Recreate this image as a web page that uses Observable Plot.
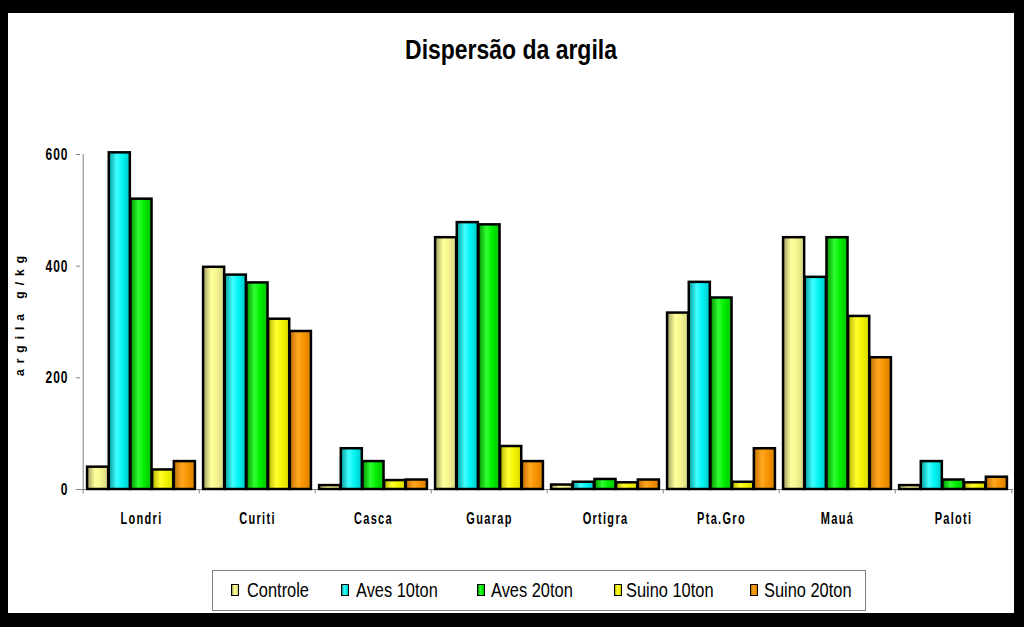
<!DOCTYPE html>
<html><head><meta charset="utf-8">
<script src="https://cdn.jsdelivr.net/npm/d3@7"></script>
<script src="https://cdn.jsdelivr.net/npm/@observablehq/plot@0.6"></script>
<style>
html,body{margin:0;padding:0;background:#000;width:1024px;height:627px;overflow:hidden}
#frame{position:absolute;left:8px;top:13px;width:1006px;height:600px;background:#fff}
#title{position:absolute;left:0;top:23px;width:1006px;text-align:center;font-weight:bold;font-size:28px;line-height:28px;color:#000;white-space:nowrap}
#ylabel{position:absolute;left:12px;top:300px;width:0;height:0}
#ylabel span{position:absolute;left:0;top:0;transform:translate(-50%,-50%) rotate(-90deg);white-space:nowrap;font:bold 12px "Liberation Sans",Arial,sans-serif;letter-spacing:6px;color:#000}
#chart{position:absolute;left:0;top:87px}
#legend{position:absolute;left:204px;top:557px;width:652px;height:39px;border:1px solid #808080;background:#fff}
.sw{position:absolute;top:13px;width:6px;height:10px;border:1.5px solid #000}
.lt{position:absolute;top:0;height:39px;line-height:39px;font-size:20px;color:#000;white-space:nowrap}
</style></head>
<body>
<div id="frame">
  <div id="title">Dispersão da argila</div>
  <div id="ylabel"><span>argila g/kg</span></div>
  <div id="chart"></div>
  <div id="legend"></div>
</div>
<script>
const categories = ["Londri","Curiti","Casca","Guarap","Ortigra","Pta.Gro","Mauá","Paloti"];
const seriesNames = ["Controle","Aves 10ton","Aves 20ton","Suino 10ton","Suino 20ton"];
const controle = [40, 398, 7, 451, 8, 316, 451, 7];
const aves10   = [603, 384, 73, 478, 13, 371, 380, 50];
const aves20   = [520, 370, 50, 474, 18, 343, 451, 17];
const suino10  = [35, 305, 16, 77, 12, 13, 310, 12];
const suino20  = [50, 283, 17, 50, 17, 73, 236, 22];
const yTicks = [0, 200, 400, 600];

const seriesValues = [controle, aves10, aves20, suino10, suino20];
const gradStops = [
  ["#a09c64", "#ffff99", "#f4f490", "#d8d680"],
  ["#009c9c", "#40ffff", "#00f4f4", "#00c8c8"],
  ["#009400", "#30ff30", "#00ee00", "#00c000"],
  ["#b4b400", "#ffff30", "#f4f400", "#d8d800"],
  ["#c06c00", "#ffa820", "#f89400", "#d88000"]
];
const stopOffsets = [0, 0.38, 0.65, 1];

function hasFont(name){
  const c = document.createElement("canvas").getContext("2d");
  const s = "Dispersão da argila Controle";
  c.font = 'bold 40px "' + name + '", monospace'; const a = c.measureText(s).width;
  c.font = 'bold 40px monospace'; const b = c.measureText(s).width;
  return Math.abs(a - b) > 0.5;
}
const narrowOK = hasFont("Liberation Sans Narrow");
const narrowFont = narrowOK ? '"Liberation Sans Narrow","Arial Narrow",sans-serif' : '"Liberation Sans",Arial,sans-serif';

const title = document.getElementById("title");
title.style.fontFamily = narrowFont;
if (!narrowOK) { title.style.transform = "scaleX(0.82)"; title.style.transformOrigin = "503px 0"; }

const data = categories.flatMap((c, ci) => seriesNames.map((s, si) => ({cat: c, series: s, si, value: seriesValues[si][ci]})));

const W = 1006, H = 440, ML = 72, MR = 1, MT = 54, MB = 51;
const bw = (W - ML - MR) / categories.length;
const pad = bw * 0.035, barW = (bw - 2 * pad) / seriesNames.length;

const barMarks = seriesNames.map((s, si) => Plot.barY(data.filter(d => d.si === si), {
  x: "cat", y: "value",
  fill: `url(#grad${si})`, stroke: "#000", strokeWidth: 2.5,
  insetLeft: pad + barW * si, insetRight: bw - pad - barW * (si + 1)
}));

const svg = Plot.plot({
  width: W, height: H,
  marginLeft: ML, marginRight: MR, marginTop: MT, marginBottom: MB,
  style: {fontFamily: '"Liberation Sans", Arial, sans-serif', fontWeight: "bold", color: "#000", background: "transparent", overflow: "visible"},
  x: {domain: categories, padding: 0, tickSize: 0, tickPadding: 25, label: null},
  y: {domain: [0, 600], ticks: 4, tickSize: 4, tickPadding: 8, label: null},
  marks: [
    Plot.ruleX([categories[0]], {x: d => d, dx: -bw / 2, y1: 0, y2: 600, stroke: "#808080", strokeWidth: 1}),
    Plot.ruleX(categories, {x: d => d, dx: -bw / 2, y1: 0, y2: -8, stroke: "#808080", strokeWidth: 1}),
    Plot.ruleX([categories[categories.length - 1]], {x: d => d, dx: bw / 2, y1: 0, y2: -8, stroke: "#808080", strokeWidth: 1}),
    Plot.ruleY([0], {stroke: "#808080", strokeWidth: 1}),
    ...barMarks
  ]
});

const defs = d3.select(svg).insert("defs", ":first-child");
gradStops.forEach((stops, i) => {
  const lg = defs.append("linearGradient").attr("id", "grad" + i).attr("x1", 0).attr("x2", 1).attr("y1", 0).attr("y2", 0);
  stops.forEach((c, k) => lg.append("stop").attr("offset", stopOffsets[k]).attr("stop-color", c));
});
document.getElementById("chart").appendChild(svg);

// axis text styling (bold, spaced, vertically stretched like the original)
svg.querySelectorAll('[aria-label^="y-axis"] line, [aria-label^="y-axis"] path').forEach(e => e.setAttribute("stroke", "#808080"));
svg.querySelectorAll("text").forEach(t => {
  const isX = !!t.closest('[aria-label^="x-axis"]');
  t.setAttribute("font-size", isX ? 11 : 12);
  t.setAttribute("font-weight", "bold");
  t.setAttribute("letter-spacing", isX ? "1.3px" : "1px");
  t.setAttribute("fill", "#000");
  const b = t.getBBox();
  const cy = b.y + b.height / 2;
  const prev = t.getAttribute("transform") || "";
  const sy = isX ? 1.45 : 1.4;
  t.setAttribute("transform", `${prev} translate(0,${cy}) scale(1,${sy}) translate(0,${-cy})`);
});

// legend
const legend = document.getElementById("legend");
const swLeft = [18, 128, 264, 401, 537];
const txLeft = [34, 143, 278, 413, 551];
seriesNames.forEach((s, i) => {
  const sw = document.createElement("div");
  sw.className = "sw";
  sw.style.left = swLeft[i] + "px";
  sw.style.background = `linear-gradient(to right, ${gradStops[i].map((c, k) => c + " " + (stopOffsets[k] * 100) + "%").join(",")})`;
  legend.appendChild(sw);
  const tx = document.createElement("div");
  tx.className = "lt";
  tx.style.left = txLeft[i] + "px";
  tx.style.fontFamily = narrowFont;
  if (!narrowOK) { tx.style.transform = "scaleX(0.82)"; tx.style.transformOrigin = "0 0"; }
  tx.textContent = s;
  legend.appendChild(tx);
});
</script>
</body></html>
